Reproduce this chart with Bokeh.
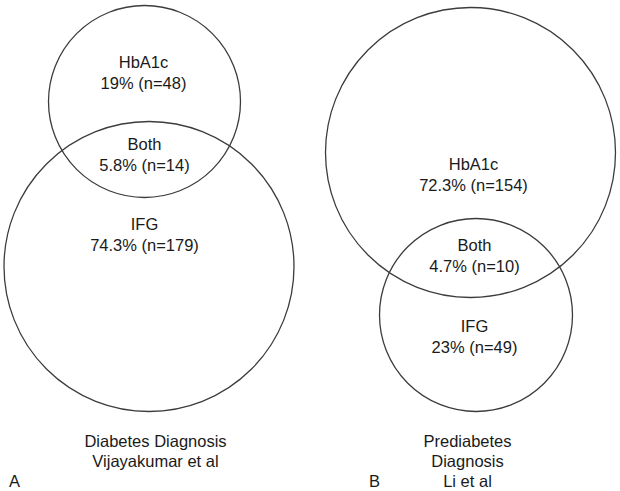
from bokeh.plotting import figure
from bokeh.models import Range1d
from bokeh.core.properties import value
from bokeh.embed import file_html
from bokeh.resources import INLINE

# ---- data ----
regions = ["HbA1c", "Both", "IFG"]
a_pct = ["19%", "5.8%", "74.3%"]
a_n = [48, 14, 179]
b_pct = ["72.3%", "4.7%", "23%"]
b_n = [154, 10, 49]
a_caption = ["Diabetes Diagnosis", "Vijayakumar et al"]
b_caption = ["Prediabetes", "Diagnosis", "Li et al"]
panel_letters = ["A", "B"]

# ---- layout (screen-pixel coordinates) ----
W, H = 620, 491
FONT = value("Liberation Sans")
FS = "16.5px"
COL = "#1a1a1a"

p = figure(width=W, height=H, output_backend="svg", toolbar_location=None,
           x_range=Range1d(0, W), y_range=Range1d(H, 0),
           x_axis_type=None, y_axis_type=None, min_border=0,
           outline_line_color=None, background_fill_color="white",
           border_fill_color="white")
p.grid.visible = False

# circles: (cx, cy, r) -- A: HbA1c, IFG ; B: HbA1c, IFG
circ_x = [144, 148.5, 470, 475.5]
circ_y = [101, 266, 152, 314.5]
circ_r = [96, 145, 145, 96.5]
p.circle(x=circ_x, y=circ_y, radius=circ_r, fill_color=None,
         line_color="#3c3c3c", line_width=1.3)

def label(x, y, txt):
    p.text(x=[x], y=[y], text=[txt], text_font=FONT, text_font_size=FS,
           text_align="center", text_baseline="middle", text_color=COL)

a_pos = [(143, 61), (144, 143), (144, 223)]
b_pos = [(473, 163), (474, 244), (474, 325)]
for (x, y), reg, pc, n in zip(a_pos, regions, a_pct, a_n):
    label(x, y, reg)
    label(x, y + 21, f"{pc} (n={n})")
for (x, y), reg, pc, n in zip(b_pos, regions, b_pct, b_n):
    label(x, y, reg)
    label(x, y + 21, f"{pc} (n={n})")

for i, t in enumerate(a_caption):
    label(155, 440 + 20 * i, t)
for i, t in enumerate(b_caption):
    label(467, 440 + 20 * i, t)

label(14, 480, panel_letters[0])
label(374, 480, panel_letters[1])

open("out.html", "w").write(file_html(p, INLINE))
